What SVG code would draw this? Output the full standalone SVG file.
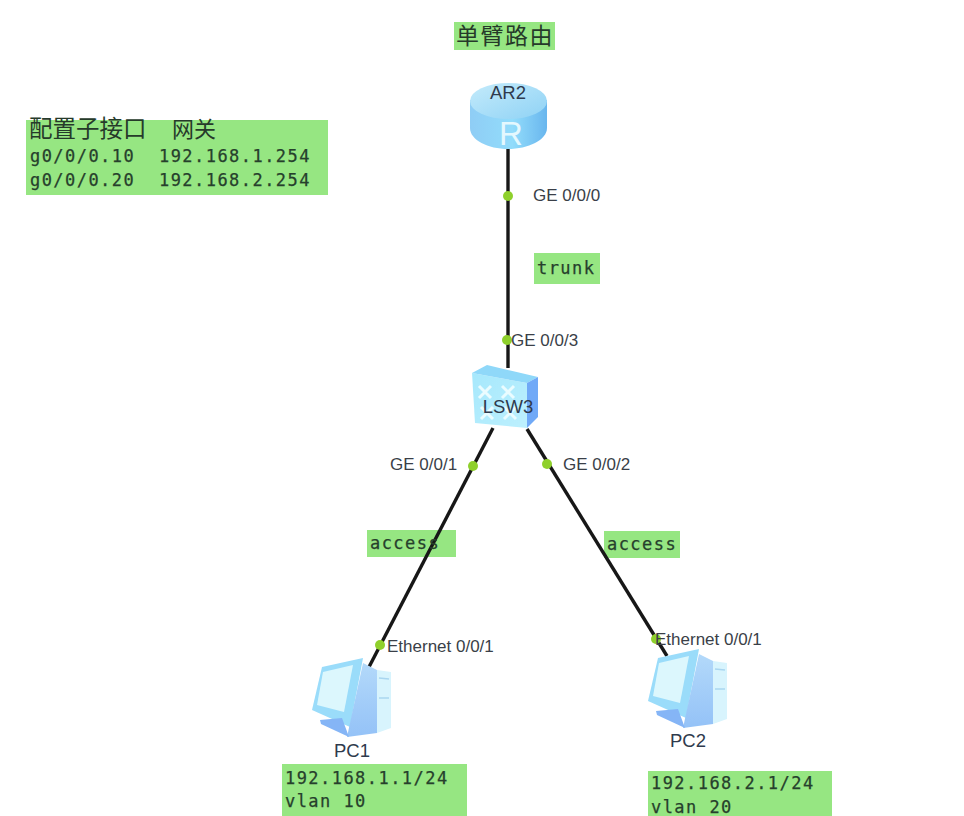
<svg xmlns="http://www.w3.org/2000/svg" width="964" height="816" viewBox="0 0 964 816">
<style>
.box{fill:#96e682}
.mono{font-family:"DejaVu Sans Mono","Liberation Mono",monospace;font-size:17px;letter-spacing:1.45px;fill:#26402c;stroke:#26402c;stroke-width:.25}
.cjk{font-family:"Noto Sans CJK SC","Noto Sans",sans-serif;fill:#263a2a}
.lab{font-family:"Liberation Sans",Arial,sans-serif;font-size:17px;fill:#3a3f48}
.name{font-family:"Liberation Sans",Arial,sans-serif;font-size:18.500px;fill:#2f3a4d}
.link{stroke:#171717;stroke-width:3.4;fill:none}
.dot{fill:#8fd02c}
.icon{filter:url(#soft)}
</style>
<defs>
<filter id="soft" x="-5%" y="-5%" width="110%" height="110%"><feGaussianBlur stdDeviation=".6"/></filter>
<linearGradient id="rs" x1="0" y1="0" x2="1" y2="0"><stop offset="0" stop-color="#8fcdf5"/><stop offset=".55" stop-color="#92dcfb"/><stop offset="1" stop-color="#69b6ee"/></linearGradient>
<linearGradient id="rt" x1="0" y1="0" x2="1" y2="1"><stop offset="0" stop-color="#c4ebfb"/><stop offset="1" stop-color="#8fd2f5"/></linearGradient>
<linearGradient id="sf" x1="0" y1="0" x2="1" y2="1"><stop offset="0" stop-color="#a6e8fc"/><stop offset="1" stop-color="#bdf0fe"/></linearGradient>
<linearGradient id="ps" x1="0" y1="0" x2="0" y2="1"><stop offset="0" stop-color="#b3d9fa"/><stop offset="1" stop-color="#94c2f7"/></linearGradient>
<g id="pc">
<path d="M11 9 L52 0 L39 69 L1 52Z" fill="#9adcfa"/>
<path d="M12 14 L42 7 L33 54 L6 47Z" fill="#dcf7fd"/>
<path d="M66 12 L80 14 L80 70 L66 75Z" fill="#d8f4fd"/>
<path d="M52 5 L66 12 L66 75 L36 79 L39 65Z" fill="url(#ps)"/>
<path d="M68 20 L78 21 M68 40 L78 40" stroke="#a9d6f0" stroke-width="1.500"/>
<path d="M9 62 L31 60 L38 79 L10 66Z" fill="#85b5f6"/>
</g>
</defs>
<g id="annotation-boxes">
<rect class="box" x="534" y="253" width="66" height="31"/>
<rect class="box" x="367" y="530" width="89" height="27"/>
<rect class="box" x="604" y="531" width="76" height="27"/>
</g>
<g id="connectors">
<line class="link" x1="508" y1="148" x2="508" y2="368"/>
<line class="link" x1="493" y1="428" x2="369" y2="667"/>
<line class="link" x1="527" y1="429" x2="667" y2="656"/>
<circle class="dot" cx="508" cy="196" r="5"/>
<circle class="dot" cx="507" cy="340" r="5"/>
<circle class="dot" cx="473" cy="466" r="5"/>
<circle class="dot" cx="547" cy="464" r="5"/>
<circle class="dot" cx="380" cy="645" r="5"/>
<circle class="dot" cx="656" cy="639" r="5"/>
<text class="lab" x="533" y="201">GE 0/0/0</text>
<text class="lab" x="511" y="346">GE 0/0/3</text>
<text class="lab" x="390" y="470">GE 0/0/1</text>
<text class="lab" x="563" y="470">GE 0/0/2</text>
<text class="lab" x="387" y="652">Ethernet 0/0/1</text>
<text class="lab" x="655" y="645">Ethernet 0/0/1</text>
</g>
<g id="title">
<rect class="box" x="454" y="22" width="101" height="28"/>
<text class="cjk" x="456" y="44" font-size="23" letter-spacing="1.500">单臂路由</text>
</g>
<g id="AR2">
<g class="icon">
<path d="M470 100 V128 C470 140 488 149 508 149 C528 149 547 140 547 128 V100Z" fill="url(#rs)"/>
<ellipse cx="508.500" cy="101" rx="38.500" ry="18" fill="url(#rt)"/>
</g>
<text x="511" y="145" text-anchor="middle" font-family="Liberation Sans,Arial,sans-serif" font-size="33" fill="#e4f8fe">R</text>
<text class="name" x="508" y="99" text-anchor="middle">AR2</text>
</g>
<g id="LSW3">
<g class="icon">
<path d="M472 373 L527 383 L527 428 L475 423Z" fill="url(#sf)"/>
<path d="M472 373 L487 365 L538 377 L527 383Z" fill="#8fd8f9"/>
<path d="M527 383 L538 377 L538 417 L527 428Z" fill="#6fa9f7"/>
<path d="M479 386 L491 398 M491 386 L479 398 M502 386 L514 398 M514 386 L502 398 M481 407 L493 419 M493 407 L481 419 M504 407 L516 419 M516 407 L504 419" stroke="#eafcff" stroke-width="3" fill="none"/>
</g>
<text class="name" x="508" y="413" text-anchor="middle" fill="#2f4a70">LSW3</text>
</g>
<g id="PC1">
<use class="icon" href="#pc" x="311" y="658"/>
<text class="name" x="352" y="757" text-anchor="middle">PC1</text>
<rect class="box" x="282" y="764" width="185" height="52"/>
<text class="mono" x="285" y="784">192.168.1.1/24</text>
<text class="mono" x="285" y="807">vlan 10</text>
</g>
<g id="PC2">
<use class="icon" href="#pc" x="647" y="649"/>
<text class="name" x="688" y="747" text-anchor="middle">PC2</text>
<rect class="box" x="648" y="771" width="184" height="45"/>
<text class="mono" x="651" y="789">192.168.2.1/24</text>
<text class="mono" x="651" y="813">vlan 20</text>
</g>
<g id="notes">
<rect class="box" x="26" y="120" width="302" height="75"/>
<text class="cjk" x="29" y="137" font-size="23.500">配置子接口</text>
<text class="cjk" x="172" y="137" font-size="22">网关</text>
<text class="mono" x="30" y="162">g0/0/0.10</text>
<text class="mono" x="159" y="162">192.168.1.254</text>
<text class="mono" x="30" y="186">g0/0/0.20</text>
<text class="mono" x="159" y="186">192.168.2.254</text>
<text class="mono" x="537" y="274">trunk</text>
<text class="mono" x="370" y="549">access</text>
<text class="mono" x="607" y="550">access</text>
</g>
</svg>
